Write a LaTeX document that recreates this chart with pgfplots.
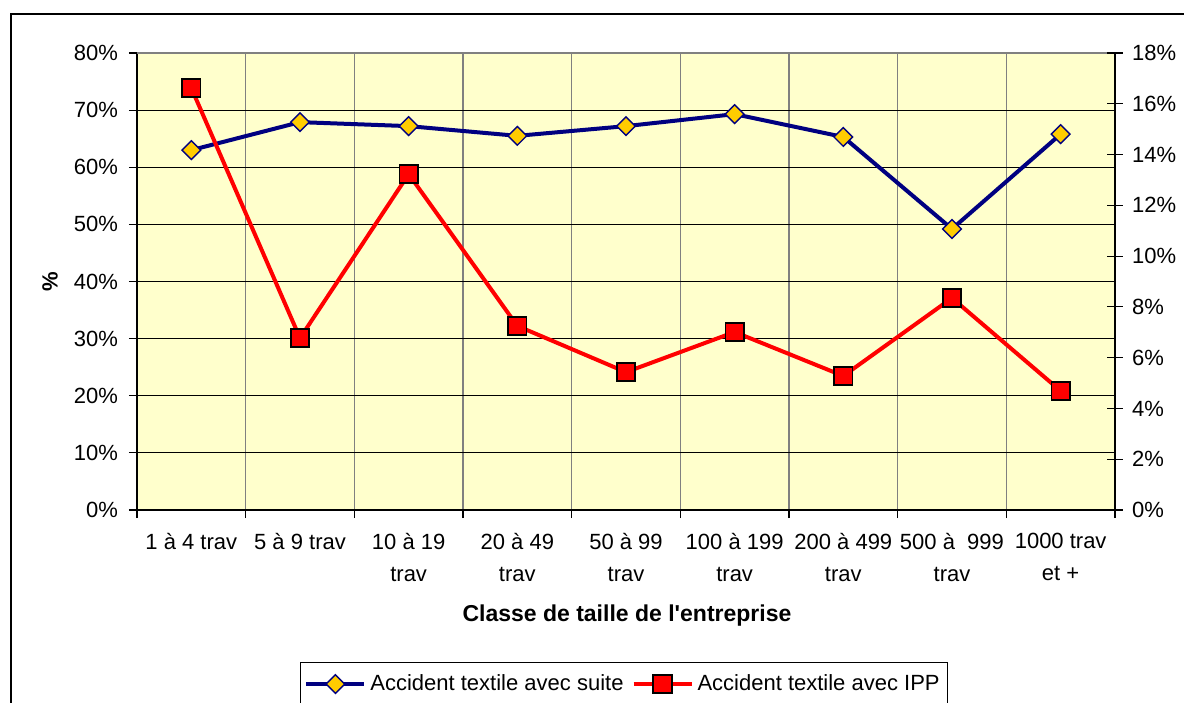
\documentclass[border=0pt]{standalone}
\usepackage{pgfplots}
\pgfplotsset{compat=1.18}
\usepackage{fontspec}
\setmainfont{Liberation Sans}[Ligatures=TeXOff]
\definecolor{bgyellow}{HTML}{FFFFCC}
\definecolor{navyline}{HTML}{000080}
\definecolor{mkyellow}{HTML}{FFCC00}
\definecolor{gridgray}{HTML}{808080}
\begin{document}
\begin{tikzpicture}[x=1pt,y=1pt]
\useasboundingbox (0,0) rectangle (592,351);
\draw[line width=0.8pt] (5.5,-10) -- (5.5,344) -- (600,344);
\pgfplotsset{
  common/.style={
    at={(68.5pt,96pt)}, anchor=south west,
    scale only axis, width=489pt, height=228.5pt,
    xmin=-0.5, xmax=8.5,
    font=\fontsize{11}{16}\selectfont,
    /pgf/number format/assume math mode=true,
    clip=false,
  }
}
\begin{axis}[common,
  axis background/.style={fill=bgyellow},
  axis y line*=left, axis x line*=bottom,
  axis line style={black, line width=0.6pt},
  ymin=0, ymax=80, ytick={0,10,...,80},
  yticklabel={\pgfmathprintnumber{\tick}\%},
  ymajorgrids, major grid style={black, line width=0.5pt},
  xtick={0,...,8},
  xticklabels={{1 à 4 trav},{5 à 9 trav},{10 à 19\\trav},{20 à 49\\trav},{50 à 99\\trav},{100 à 199\\trav},{200 à 499\\trav},{500 à \ 999\\trav},{1000 trav\\et +}},
  xticklabel style={align=center, anchor=north, yshift=-4pt},
  minor xtick={-0.5,0.5,...,8.5},
  xminorgrids, minor grid style={gridgray, line width=0.6pt},
  major x tick style={draw=none},
  minor x tick style={black, line width=0.6pt},
  tick align=outside,
  major tick length=4pt, minor tick length=4pt,
  y tick style={black, line width=0.6pt},
  yticklabel style={anchor=east, xshift=-2pt},
  ylabel={\textbf{\%}},
  ylabel style={at={(axis description cs:-0.089,0.5)}, anchor=center},
  xlabel={\textbf{Classe de taille de l'entreprise}},
  xlabel style={at={(axis description cs:0.501,-0.232)}, anchor=center, font=\fontsize{11.5}{14}\selectfont},
]
\draw[gridgray, line width=0.6pt] (rel axis cs:0,1) -- (rel axis cs:1,1);
\addplot[navyline, line width=2pt, mark=square*, mark size=3.3pt,
  mark options={rotate=45, fill=mkyellow, draw=navyline, line width=0.7pt}]
  coordinates {(0,63.0) (1,67.9) (2,67.2) (3,65.5) (4,67.2) (5,69.3) (6,65.3) (7,49.2) (8,65.8)};
\end{axis}
\begin{axis}[common,
  axis y line*=right, axis x line=none,
  axis line style={black, line width=0.6pt},
  ymin=0, ymax=18, ytick={0,2,...,18},
  yticklabel={\pgfmathprintnumber{\tick}\%},
  tick align=center, major tick length=8pt,
  y tick style={black, line width=0.6pt},
  yticklabel style={anchor=west, xshift=1pt},
  legend style={at={(axis description cs:0.498,-0.3326)}, anchor=north,
    legend columns=2, draw=black, line width=0.6pt, fill=white,
    inner ysep=4pt, inner xsep=2pt,
    font=\fontsize{11}{13}\selectfont,
    /tikz/every even column/.append style={column sep=2pt}},
  legend image code/.code={\draw[mark repeat=2, mark phase=2] plot coordinates {(0pt,0pt) (14.5pt,0pt) (29pt,0pt)};},
]
\addlegendimage{navyline, line width=2pt, mark=square*, mark size=3.3pt,
  mark options={rotate=45, fill=mkyellow, draw=navyline, line width=0.7pt}}
\addlegendentry{Accident textile avec suite}
\addplot[red, line width=2pt, mark=square*, mark size=4.6pt,
  mark options={fill=red, draw=black, line width=0.9pt}]
  coordinates {(0,16.62) (1,6.77) (2,13.23) (3,7.25) (4,5.43) (5,7.01) (6,5.28) (7,8.35) (8,4.69)};
\addlegendentry{Accident textile avec IPP}
\end{axis}
\end{tikzpicture}
\end{document}
